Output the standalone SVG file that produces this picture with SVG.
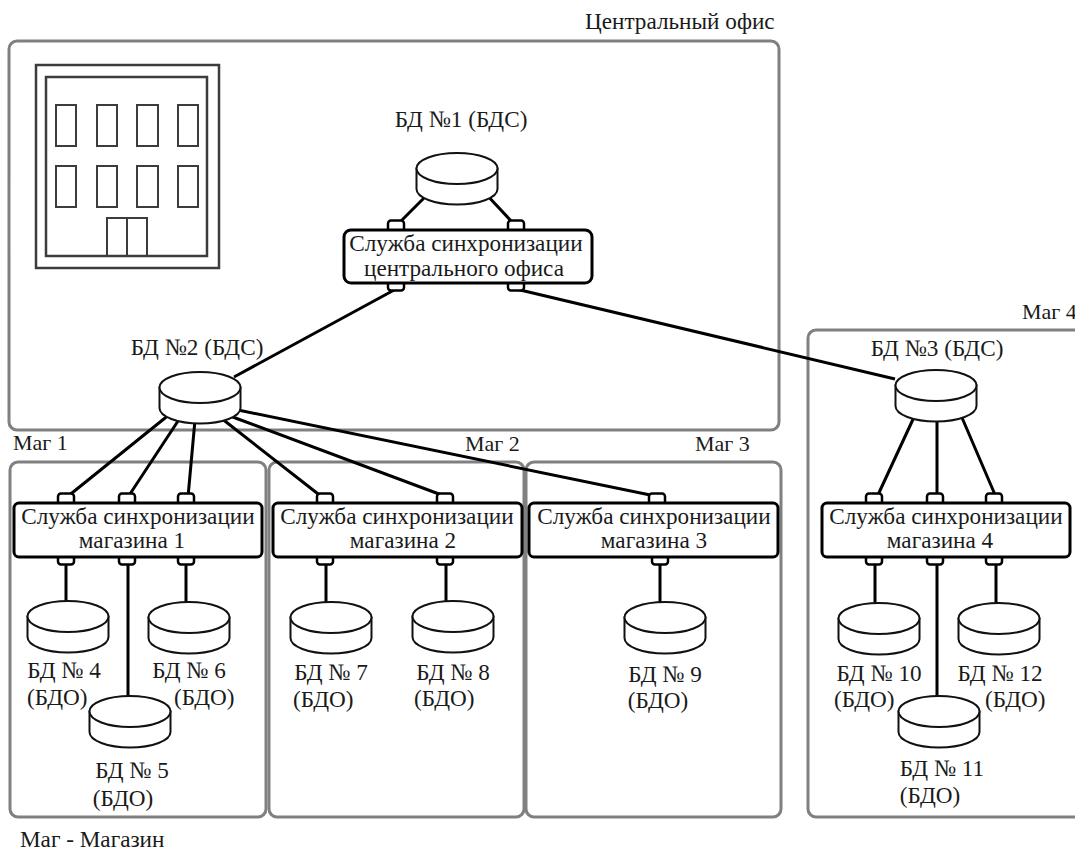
<svg xmlns="http://www.w3.org/2000/svg" width="1075" height="852" viewBox="0 0 1075 852">
<style>
text{font-family:"Liberation Serif","Times New Roman",serif;font-size:23.2px;fill:#1a1a1a}
.m{text-anchor:middle}
.s{font-size:22px}
.panel{fill:none;stroke:#808080;stroke-width:3}
.svc{fill:#fff;stroke:#000;stroke-width:3}
.port{fill:#fff;stroke:#000;stroke-width:2.5}
.link{stroke:#000;stroke-width:3;fill:none}
.cyl path{fill:#fff;stroke:#111;stroke-width:2}
.b{fill:none;stroke:#3c3c3c;stroke-width:2.5}
.b2{fill:none;stroke:#3c3c3c;stroke-width:2}
</style>
<defs>
<g id="cyl" class="cyl">
<path d="M-40.500 15.500V36A40.500 15.500 0 0 0 40.500 36V15.500Z"/>
<path d="M-40.500 15.500A40.500 15.500 0 0 1 40.500 15.500A40.500 15.500 0 0 1 -40.500 15.500Z"/>
</g>
<rect id="port" x="-8" y="-3.500" width="16" height="12" rx="3" class="port"/>
</defs>
<g id="panels">
<rect class="panel" x="9" y="41" width="770" height="389" rx="8"/>
<rect class="panel" x="10" y="462" width="256" height="355" rx="8"/>
<rect class="panel" x="269" y="462" width="255" height="355" rx="8"/>
<rect class="panel" x="526" y="462" width="255" height="355" rx="8"/>
<rect class="panel" x="808" y="330" width="280" height="487" rx="8"/>
</g>
<g id="building">
<rect class="b" x="36" y="65" width="183" height="203"/>
<rect class="b" x="46" y="77" width="161" height="179"/>
<rect class="b2" x="56" y="105" width="20" height="41"/>
<rect class="b2" x="97" y="105" width="20" height="41"/>
<rect class="b2" x="137" y="105" width="21" height="41"/>
<rect class="b2" x="178" y="105" width="20" height="41"/>
<rect class="b2" x="56" y="166" width="20" height="41"/>
<rect class="b2" x="97" y="166" width="20" height="41"/>
<rect class="b2" x="137" y="166" width="21" height="41"/>
<rect class="b2" x="178" y="166" width="20" height="41"/>
<path class="b2" d="M107 256V218H147V256M127 218V256"/>
</g>
<g id="connectors">
<path class="link" d="M429 193L398 224M485 193L514 224"/>
<path class="link" d="M396 289L234 377M516 289L895 379"/>
<path class="link" d="M170 414L67 497M180 418L128 497M195 420L188 497M221 418L322 497M230 416L447 497M238 410L660 497"/>
<path class="link" d="M915 415L877 497M937 418V497M960 413L996 497"/>
<path class="link" d="M66 563V603M186 563V603M128 563V697M326 563V604M446 563V604M660 563V604M875 563V604M996 563V604M937 563V699"/>
</g>
<g id="db1"><use href="#cyl" x="457" y="153"/><text class="m" x="461" y="127">БД №1 (БДС)</text></g>
<g id="db2"><use href="#cyl" x="200" y="372"/><text class="m" x="197" y="355">БД №2 (БДС)</text></g>
<g id="db3"><use href="#cyl" x="936" y="370"/><text class="m" x="937" y="356">БД №3 (БДС)</text></g>
<g id="sync-central"><use href="#port" x="396" y="224"/><use href="#port" x="516" y="224"/><use href="#port" x="396" y="282"/><use href="#port" x="516" y="282"/><rect class="svc" x="344" y="230" width="248" height="53" rx="7"/><text class="m" x="466" y="251">Служба синхронизации</text><text class="m" x="464" y="276">центрального офиса</text></g>
<g id="sync-1"><use href="#port" x="66" y="497"/><use href="#port" x="127" y="497"/><use href="#port" x="186" y="497"/><use href="#port" x="66" y="556"/><use href="#port" x="127" y="556"/><use href="#port" x="186" y="556"/><rect class="svc" x="14" y="503" width="248" height="54" rx="5"/><text class="m" x="138" y="524">Служба синхронизации</text><text class="m" x="132" y="548">магазина 1</text></g>
<g id="sync-2"><use href="#port" x="325" y="497"/><use href="#port" x="445" y="497"/><use href="#port" x="325" y="556"/><use href="#port" x="445" y="556"/><rect class="svc" x="273" y="503" width="249" height="54" rx="5"/><text class="m" x="397" y="524">Служба синхронизации</text><text class="m" x="403" y="548">магазина 2</text></g>
<g id="sync-3"><use href="#port" x="657" y="497"/><use href="#port" x="660" y="556"/><rect class="svc" x="529" y="503" width="249" height="54" rx="5"/><text class="m" x="654" y="524">Служба синхронизации</text><text class="m" x="654" y="548">магазина 3</text></g>
<g id="sync-4"><use href="#port" x="874" y="497"/><use href="#port" x="935" y="497"/><use href="#port" x="994" y="497"/><use href="#port" x="874" y="556"/><use href="#port" x="935" y="556"/><use href="#port" x="994" y="556"/><rect class="svc" x="822" y="503" width="248" height="54" rx="5"/><text class="m" x="946" y="524">Служба синхронизации</text><text class="m" x="940" y="548">магазина 4</text></g>
<g id="db4"><use href="#cyl" x="68" y="601"/><text class="m" x="64" y="678">БД № 4</text><text x="27" y="705">(БДО)</text></g>
<g id="db6"><use href="#cyl" x="189" y="602"/><text class="m" x="189" y="678">БД № 6</text><text x="174" y="705">(БДО)</text></g>
<g id="db5"><use href="#cyl" x="130" y="696"/><text class="m" x="132" y="778">БД № 5</text><text class="m" x="123" y="806">(БДО)</text></g>
<g id="db7"><use href="#cyl" x="331" y="602"/><text class="m" x="331" y="680">БД № 7</text><text x="293" y="707">(БДО)</text></g>
<g id="db8"><use href="#cyl" x="453" y="601"/><text class="m" x="453" y="680">БД № 8</text><text x="414" y="706">(БДО)</text></g>
<g id="db9"><use href="#cyl" x="665" y="602"/><text class="m" x="665" y="682">БД № 9</text><text class="m" x="658" y="708">(БДО)</text></g>
<g id="db10"><use href="#cyl" x="879" y="603"/><text class="m" x="879" y="681">БД № 10</text><text x="834" y="707">(БДО)</text></g>
<g id="db12"><use href="#cyl" x="999" y="603"/><text class="m" x="1000" y="681">БД № 12</text><text x="985" y="707">(БДО)</text></g>
<g id="db11"><use href="#cyl" x="939" y="696"/><text class="m" x="942" y="776">БД № 11</text><text class="m" x="930" y="803">(БДО)</text></g>
<g id="labels">
<text x="585" y="29">Центральный офис</text>
<text class="s" x="13" y="450">Маг 1</text>
<text class="s" x="465" y="451">Маг 2</text>
<text class="s" x="695" y="451">Маг 3</text>
<text class="s" x="1022" y="319">Маг 4</text>
<text x="20" y="847">Маг - Магазин</text>
</g>
</svg>
